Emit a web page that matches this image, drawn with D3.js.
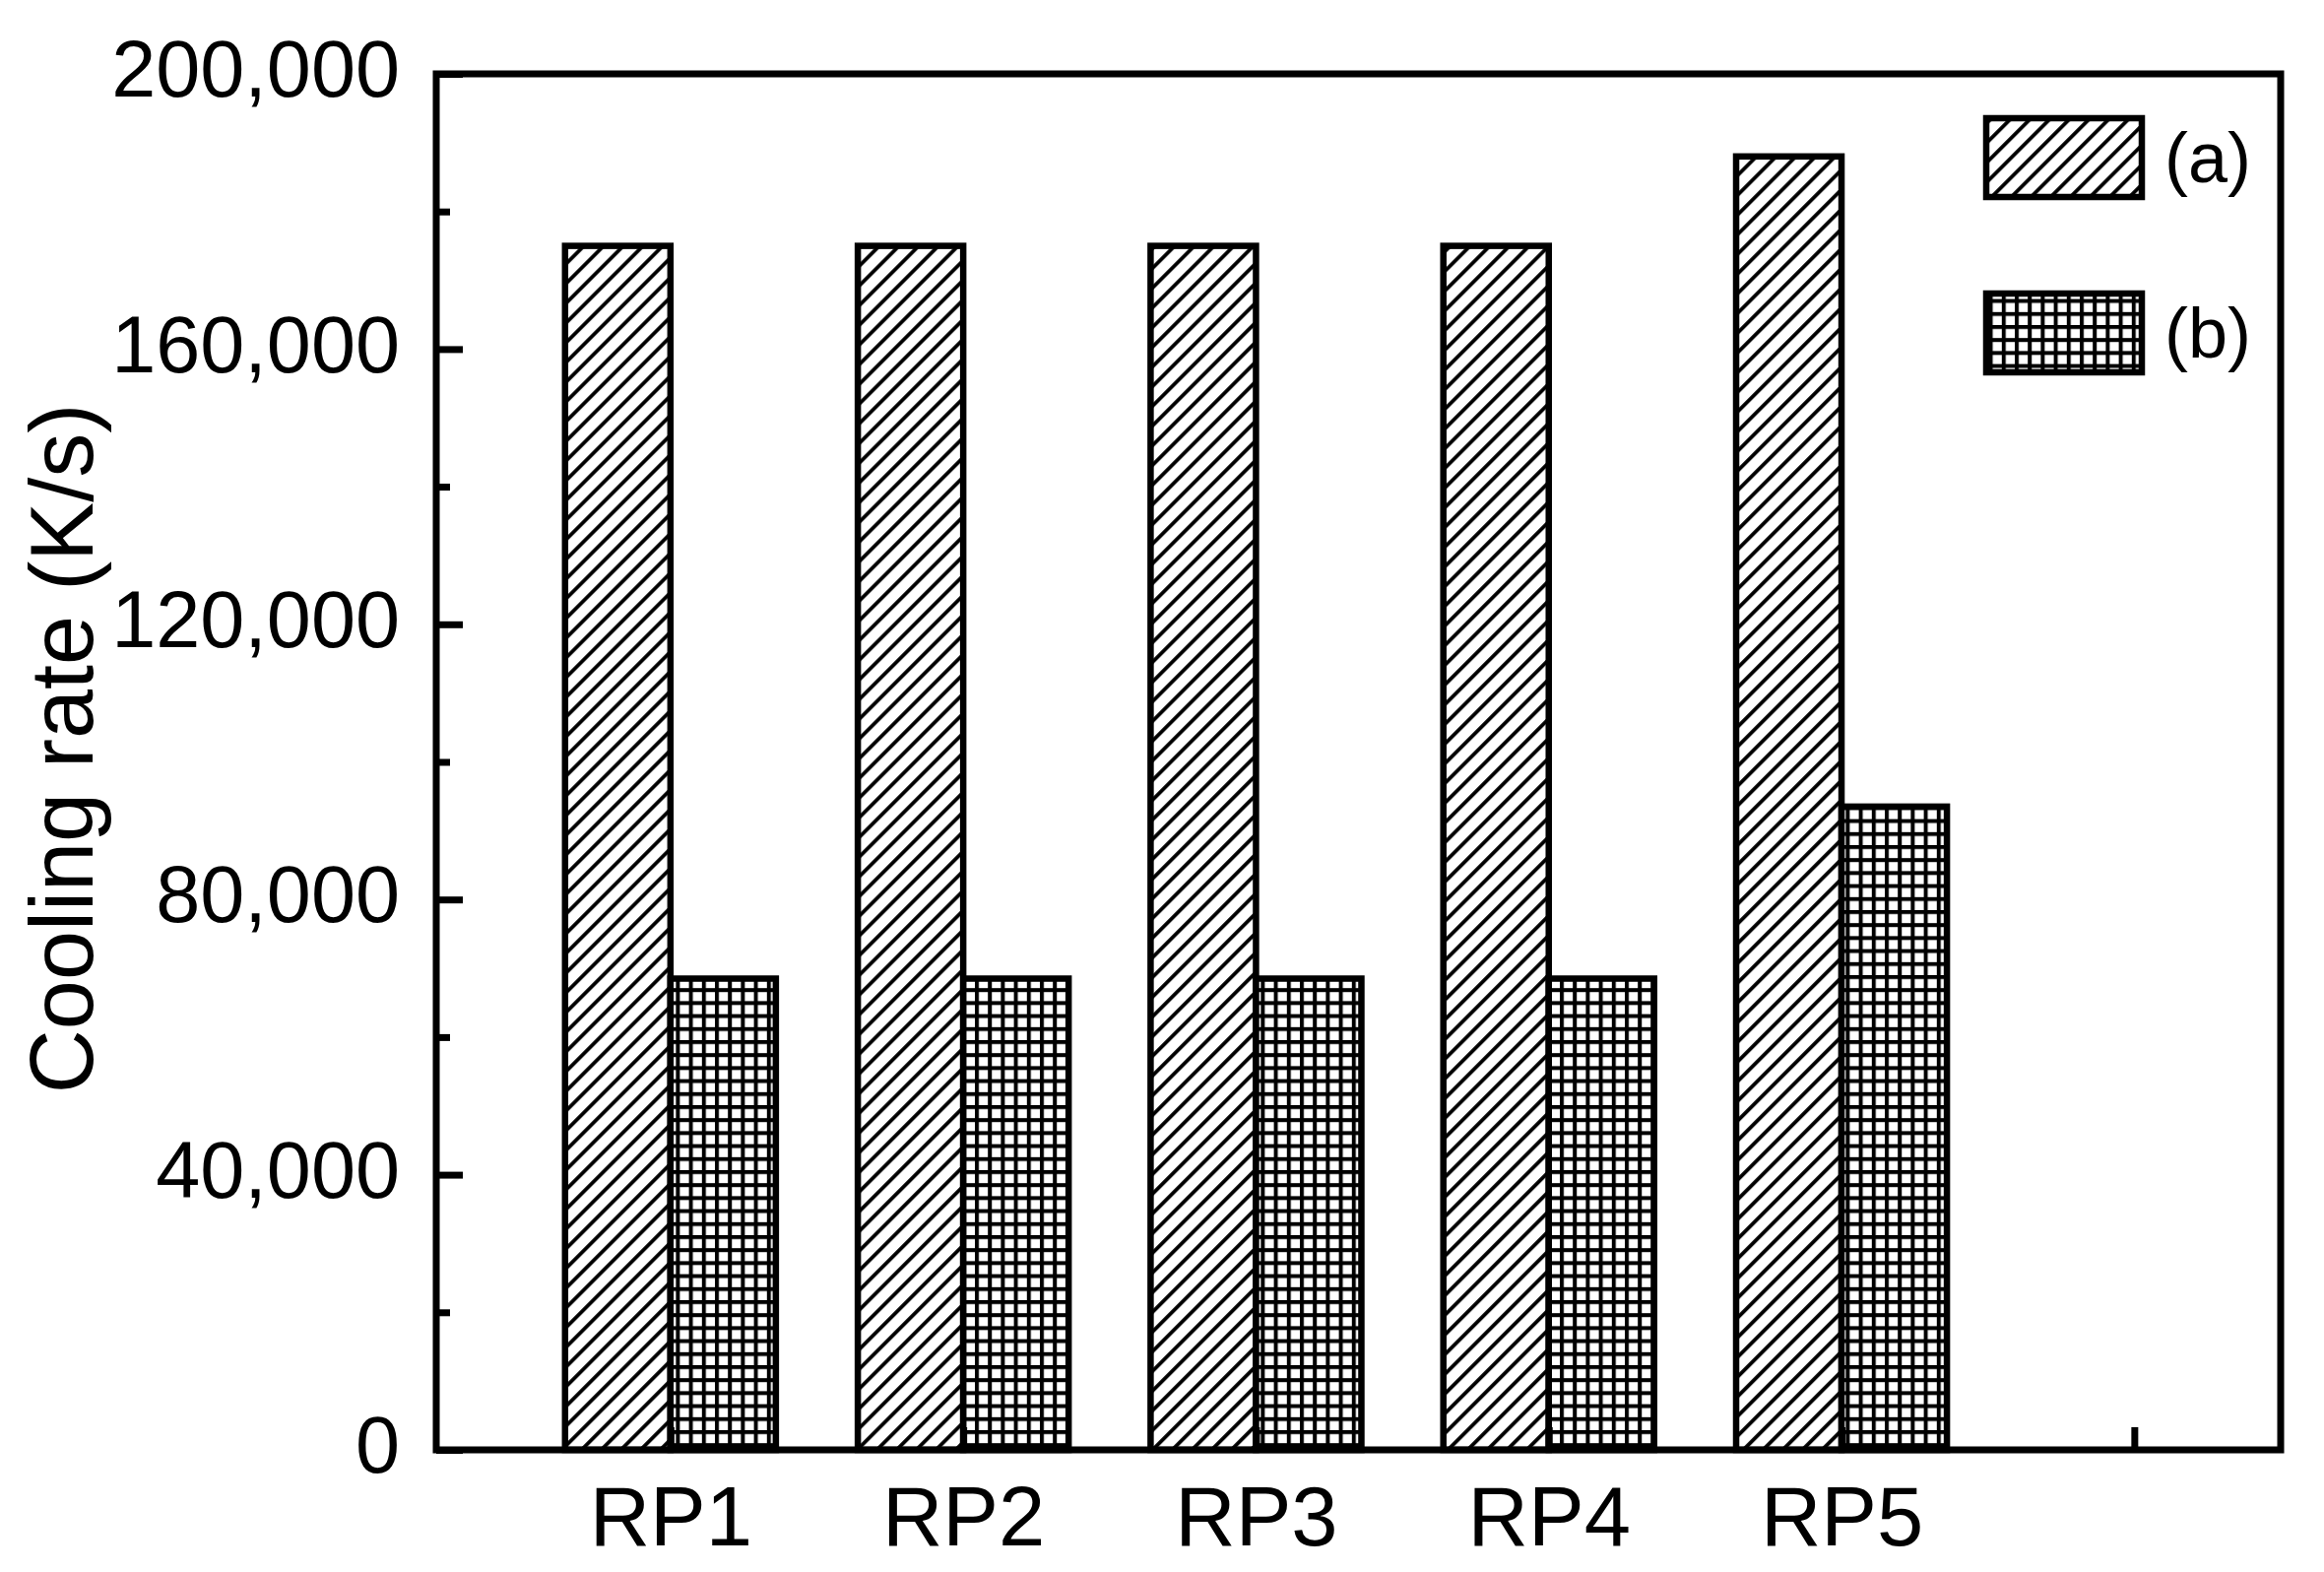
<!DOCTYPE html>
<html>
<head>
<meta charset="utf-8">
<script src="https://cdn.jsdelivr.net/npm/d3@7"></script>
<style>
  html, body { margin: 0; padding: 0; background: #fff; }
  svg { display: block; }
  text { font-family: "Liberation Sans", Arial, sans-serif; fill: #000; }
</style>
</head>
<body>
<svg id="chart" width="2360" height="1596"></svg>
<script>
// ---- data ----
const categories = ["RP1", "RP2", "RP3", "RP4", "RP5"];
const seriesA = [175000, 175000, 175000, 175000, 188000];
const seriesB = [68500, 68500, 68500, 68500, 93500];
const seriesNames = ["(a)", "(b)"];
const yTicks = [0, 40000, 80000, 120000, 160000, 200000];
const yMinorTicks = [20000, 60000, 100000, 140000, 180000];
const xTickPositions = [1, 2, 3, 4, 5, 6];
const yTitle = "Cooling rate (K/s)";

(function () {
// ---- layout ----
const W = 2360, H = 1596;
const pL = 443, pR = 2316, pT = 75, pB = 1472;
const svg = d3.select("#chart");
svg.append("rect").attr("width", W).attr("height", H).attr("fill", "#fff");

const defs = svg.append("defs");
// diagonal hatch "/"
const pa = defs.append("pattern")
  .attr("id", "hatchA").attr("patternUnits", "userSpaceOnUse")
  .attr("width", 14.14).attr("height", 14.14)
  .attr("patternTransform", "rotate(45)");
pa.append("rect").attr("width", 14.14).attr("height", 14.14).attr("fill", "#fff");
pa.append("line").attr("x1", 2).attr("y1", -1).attr("x2", 2).attr("y2", 16)
  .attr("stroke", "#000").attr("stroke-width", 3.8);
// grid
const pb = defs.append("pattern")
  .attr("id", "gridB").attr("patternUnits", "userSpaceOnUse")
  .attr("width", 13.2).attr("height", 13.2);
pb.append("rect").attr("width", 13.2).attr("height", 13.2).attr("fill", "#fff");
pb.append("line").attr("x1", 2).attr("y1", 0).attr("x2", 2).attr("y2", 13.2)
  .attr("stroke", "#000").attr("stroke-width", 4);
pb.append("line").attr("x1", 0).attr("y1", 2).attr("x2", 13.2).attr("y2", 2)
  .attr("stroke", "#000").attr("stroke-width", 4);

const x = d3.scaleLinear().domain([0.2, 6.5]).range([pL, pR]);
const y = d3.scaleLinear().domain([0, 200000]).range([pB, pT]);
const bw = 0.36;

// bars
const g = svg.append("g");
const dataA = categories.map((c, i) => ({i: i + 1, v: seriesA[i]}));
const dataB = categories.map((c, i) => ({i: i + 1, v: seriesB[i]}));
g.selectAll("rect.a").data(dataA).enter().append("rect").attr("class", "a")
  .attr("x", d => x(d.i - bw)).attr("width", d => x(d.i) - x(d.i - bw))
  .attr("y", d => y(d.v)).attr("height", d => y(0) - y(d.v))
  .attr("fill", "url(#hatchA)").attr("stroke", "#000").attr("stroke-width", 6.5);
g.selectAll("rect.b").data(dataB).enter().append("rect").attr("class", "b")
  .attr("x", d => x(d.i)).attr("width", d => x(d.i + bw) - x(d.i))
  .attr("y", d => y(d.v)).attr("height", d => y(0) - y(d.v))
  .attr("fill", "url(#gridB)").attr("stroke", "#000").attr("stroke-width", 6.5);

// y axis major
const yAxis = d3.axisLeft(y).tickValues(yTicks).tickFormat(d3.format(","))
  .tickSize(-27).tickPadding(37);
const ya = svg.append("g").attr("transform", `translate(${pL},0)`).call(yAxis);
ya.select(".domain").remove();
ya.selectAll(".tick line").attr("stroke", "#000").attr("stroke-width", 7);
ya.selectAll(".tick text").attr("font-size", 81).attr("dy", "0.28em")
  .style("font-family", "'Liberation Sans', Arial, sans-serif");
// y minor
const yAxisMinor = d3.axisLeft(y).tickValues(yMinorTicks).tickFormat("").tickSize(-14);
const ym = svg.append("g").attr("transform", `translate(${pL},0)`).call(yAxisMinor);
ym.select(".domain").remove();
ym.selectAll(".tick line").attr("stroke", "#000").attr("stroke-width", 7);

// x axis
const xAxis = d3.axisBottom(x).tickValues(xTickPositions)
  .tickFormat(d => categories[d - 1] || "").tickSize(-23).tickPadding(36);
const xa = svg.append("g").attr("transform", `translate(0,${pB})`).call(xAxis);
xa.select(".domain").remove();
xa.selectAll(".tick line").attr("stroke", "#000").attr("stroke-width", 7);
xa.selectAll(".tick text").attr("font-size", 85).attr("dy", "0.72em")
  .style("font-family", "'Liberation Sans', Arial, sans-serif");

// frame
svg.append("rect").attr("x", pL).attr("y", pT)
  .attr("width", pR - pL).attr("height", pB - pT)
  .attr("fill", "none").attr("stroke", "#000").attr("stroke-width", 7);

// y title
svg.append("text").attr("transform", "translate(94,760) rotate(-90)")
  .attr("text-anchor", "middle").attr("font-size", 90).text(yTitle);

// legend
const legend = svg.append("g");
const legFills = ["url(#hatchA)", "url(#gridB)"];
const legY = [120, 298];
seriesNames.forEach((n, i) => {
  legend.append("rect").attr("x", 2017).attr("y", legY[i]).attr("width", 158).attr("height", 80)
    .attr("fill", legFills[i]).attr("stroke", "#000").attr("stroke-width", 6.5);
  legend.append("text").attr("x", 2198).attr("y", legY[i] + 40).attr("dy", "0.35em")
    .attr("font-size", 72).text(n);
});
})();
</script>
</body>
</html>
